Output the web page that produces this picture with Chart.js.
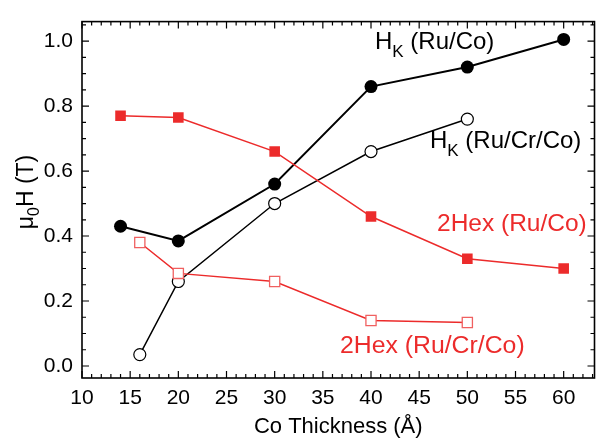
<!DOCTYPE html>
<html>
<head>
<meta charset="utf-8">
<script src="https://cdn.jsdelivr.net/npm/chart.js@4/dist/chart.umd.min.js"></script>
<style>
  html, body { margin: 0; padding: 0; background: #fff; }
  #wrap { width: 603px; height: 439px; position: relative; }
</style>
</head>
<body>
<div id="wrap"><canvas id="c"></canvas></div>
<script>
// ── data ──
const hkRuCoX     = [14, 20, 30, 40, 50, 60];
const hkRuCoY     = [0.43, 0.385, 0.56, 0.86, 0.92, 1.005];
const hkRuCrCoX   = [16, 20, 30, 40, 50];
const hkRuCrCoY   = [0.035, 0.26, 0.50, 0.66, 0.76];
const hexRuCoX    = [14, 20, 30, 40, 50, 60];
const hexRuCoY    = [0.77, 0.765, 0.66, 0.46, 0.33, 0.30];
const hexRuCrCoX  = [16, 20, 30, 40, 50];
const hexRuCrCoY  = [0.38, 0.285, 0.26, 0.14, 0.134];
const xTicks      = [10, 15, 20, 25, 30, 35, 40, 45, 50, 55, 60];
const yTicks      = [0, 0.2, 0.4, 0.6, 0.8, 1.0];

const FONT = "'Liberation Sans', Arial, sans-serif";
const RED = '#ec2b2b';
const RED_LIGHT = '#f06060';

const pts = (xs, ys) => xs.map((x, i) => ({ x, y: ys[i] }));

// frame + inward ticks, titles, inline series labels
const decor = {
  id: 'decor',
  afterDraw(chart) {
    const { ctx, chartArea: a, scales: { x, y } } = chart;
    ctx.save();
    ctx.strokeStyle = '#000';
    ctx.lineWidth = 1.6;
    ctx.strokeRect(a.left, a.top, a.right - a.left, a.bottom - a.top);

    ctx.lineWidth = 1.2;
    ctx.beginPath();
    for (let v = 10; v <= 63; v++) {
      const px = x.getPixelForValue(v);
      const len = v % 5 === 0 ? 7 : 4;
      ctx.moveTo(px, a.bottom); ctx.lineTo(px, a.bottom - len);
      ctx.moveTo(px, a.top);    ctx.lineTo(px, a.top + len);
    }
    for (let k = 0; k <= 21; k++) {
      const py = y.getPixelForValue(k * 0.05);
      const len = k % 4 === 0 ? 7 : 4;
      ctx.moveTo(a.left, py);  ctx.lineTo(a.left + len, py);
      ctx.moveTo(a.right, py); ctx.lineTo(a.right - len, py);
    }
    ctx.stroke();

    // x title
    ctx.fillStyle = '#000';
    ctx.font = `22px ${FONT}`;
    ctx.textAlign = 'center';
    ctx.textBaseline = 'alphabetic';
    ctx.fillText('Co Thickness (Å)', (a.left + a.right) / 2, 433);

    // y title: μ0H (T), rotated
    ctx.save();
    ctx.translate(33, 192);
    ctx.rotate(-Math.PI / 2);
    const parts = [['μ', 23, 0], ['0', 16, 6], ['H (T)', 23, 0]];
    ctx.textAlign = 'left';
    let w = 0;
    parts.forEach(([t, s]) => { ctx.font = `${s}px ${FONT}`; w += ctx.measureText(t).width; });
    let cx = -w / 2;
    parts.forEach(([t, s, dy]) => { ctx.font = `${s}px ${FONT}`; ctx.fillText(t, cx, dy); cx += ctx.measureText(t).width; });
    ctx.restore();

    // series labels
    const label = (x0, base, color, segs) => {
      ctx.fillStyle = color;
      ctx.textAlign = 'left';
      let px = x0;
      segs.forEach(([t, s, dy]) => { ctx.font = `${s}px ${FONT}`; ctx.fillText(t, px, base + dy); px += ctx.measureText(t).width; });
    };
    label(375, 49, '#000', [['H', 24, 0], ['K', 17, 8], [' (Ru/Co)', 24, 0]]);
    label(430, 148, '#000', [['H', 24, 0], ['K', 17, 8], [' (Ru/Cr/Co)', 24, 0]]);
    label(437, 231, RED, [['2Hex (Ru/Co)', 24.5, 0]]);
    label(340, 353, RED, [['2Hex (Ru/Cr/Co)', 24.8, 0]]);
    ctx.restore();
  }
};

new Chart(document.getElementById('c'), {
  type: 'scatter',
  data: {
    datasets: [
      { data: pts(hexRuCrCoX, hexRuCrCoY), showLine: true, borderColor: RED, borderWidth: 1.5,
        pointStyle: 'rect', pointRadius: 7.2, pointBorderColor: RED_LIGHT, pointBorderWidth: 1.3, pointBackgroundColor: '#fff' },
      { data: pts(hexRuCoX, hexRuCoY), showLine: true, borderColor: RED, borderWidth: 1.5,
        pointStyle: 'rect', pointRadius: 7.5, pointBorderColor: RED, pointBorderWidth: 0, pointBackgroundColor: RED },
      { data: pts(hkRuCrCoX, hkRuCrCoY), showLine: true, borderColor: '#000', borderWidth: 1.5,
        pointStyle: 'circle', pointRadius: 6, pointBorderColor: '#000', pointBorderWidth: 1.2, pointBackgroundColor: '#fff' },
      { data: pts(hkRuCoX, hkRuCoY), showLine: true, borderColor: '#000', borderWidth: 2,
        pointStyle: 'circle', pointRadius: 6.5, pointBorderColor: '#000', pointBorderWidth: 0, pointBackgroundColor: '#000' },
    ]
  },
  options: {
    responsive: true,
    maintainAspectRatio: false,
    animation: false,
    events: [],
    layout: { padding: { top: 12, right: 2, left: 0, bottom: 0 } },
    plugins: { legend: { display: false }, tooltip: { enabled: false } },
    scales: {
      x: {
        type: 'linear', min: 10, max: 63.2,
        afterFit: s => { s.height = 61; },
        afterBuildTicks: s => { s.ticks = xTicks.map(v => ({ value: v })); },
        grid: { display: false, drawTicks: false },
        border: { display: false },
        ticks: { color: '#000', font: { family: FONT, size: 21 }, padding: 8, autoSkip: false, maxRotation: 0 }
      },
      y: {
        type: 'linear', min: -0.037, max: 1.06,
        afterFit: s => { s.width = 82; },
        afterBuildTicks: s => { s.ticks = yTicks.map(v => ({ value: v })); },
        grid: { display: false, drawTicks: false },
        border: { display: false },
        ticks: { color: '#000', font: { family: FONT, size: 21 }, padding: 9, callback: v => v.toFixed(1) }
      }
    }
  },
  plugins: [decor]
});
</script>
</body>
</html>
